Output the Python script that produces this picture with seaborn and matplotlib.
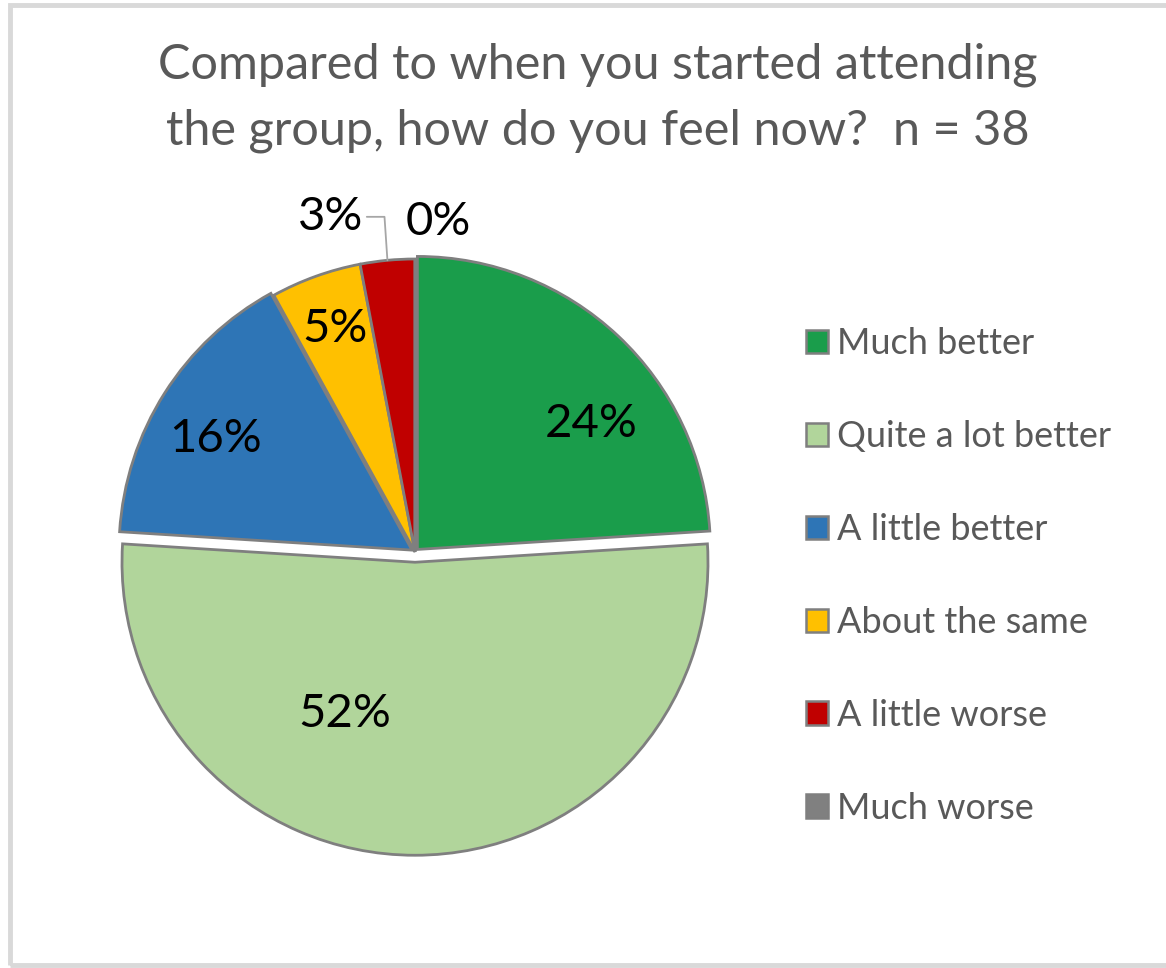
import matplotlib
matplotlib.use("Agg")
import matplotlib.pyplot as plt
import seaborn as sns
import numpy as np
from matplotlib.patches import Rectangle, Patch

categories = ["Much better", "Quite a lot better", "A little better",
              "About the same", "A little worse", "Much worse"]
values = [24, 52, 16, 5, 3, 0]
title = "Compared to when you started attending\nthe group, how do you feel now?  n = 38"

colors = ["#1a9d4b", "#b1d59b", "#2e75b6", "#ffc000", "#c00000", "#808080"]
explode = [0.012, 0.035, 0.012, 0.0, 0.0, 0.0]
# label placement (radius, angle offset in degrees from wedge middle)
label_place = [(0.73, -11), (0.57, -25), (0.77, 3), (0.81, 0), (1.18, 8.8), (1.13, -4)]

sns.set_theme(style="white")
plt.rcParams["font.family"] = ["Lato", "DejaVu Sans"]

W, H = 1166, 968
fig = plt.figure(figsize=(W / 100, H / 100), dpi=100)
fig.patch.set_facecolor("white")

# frame
fig.add_artist(Rectangle((10 / W, 3 / H), 1.2, (963 - 3) / H, transform=fig.transFigure,
                         fill=False, edgecolor="#d9d9d9", linewidth=3.5))

cx, cy, R = 415, 552, 293
half = 1.2 * R
ax = fig.add_axes([(cx - half) / W, (H - cy - half) / H, 2 * half / W, 2 * half / H])
ax.axis("off")

wedges, _ = ax.pie(values, colors=colors, startangle=90, counterclock=False,
                   explode=explode, radius=1.0,
                   wedgeprops=dict(edgecolor="#7f7f7f", linewidth=2.0))
ax.set_xlim(-1.2, 1.2)
ax.set_ylim(-1.2, 1.2)

total = sum(values)
for i, (w, v) in enumerate(zip(wedges, values)):
    mid = (w.theta1 + w.theta2) / 2
    r, off = label_place[i]
    a = np.deg2rad(mid + off)
    ccx, ccy = w.center
    x = ccx + r * np.cos(a)
    y = ccy + r * np.sin(a)
    t = ax.text(x, y, f"{round(100 * v / total)}%", ha="center", va="center",
                fontsize=34, color="black")
    if i == 4:
        # leader line from label to wedge edge
        ea = np.deg2rad(mid)
        ex, ey = 1.0 * np.cos(ea), 1.0 * np.sin(ea)
        lx = x + 0.125
        ax.plot([lx, ex - 0.01, ex], [y, y, ey], color="#a6a6a6", lw=1.3)

fig.text(0.513, 0.899, title, ha="center", va="center", fontsize=35,
         color="#595959", linespacing=1.6)

handles = [Patch(facecolor=c, edgecolor="#7f7f7f", linewidth=1.8) for c in colors]
leg = fig.legend(handles, categories, loc="center left",
                 bbox_to_anchor=(0.663, 0.405), frameon=False, fontsize=26,
                 handlelength=0.62, handleheight=0.62, handletextpad=0.25,
                 labelspacing=1.66)
for t in leg.get_texts():
    t.set_color("#595959")

fig.savefig("out.png", dpi=100, facecolor="white")
